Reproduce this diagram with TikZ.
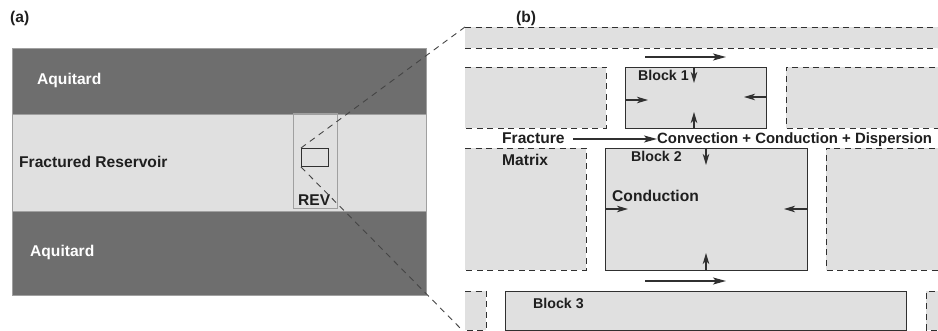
\documentclass[tikz,border=0pt]{standalone}
\usepackage{fontspec}
\setmainfont{Liberation Sans}
\usetikzlibrary{arrows.meta}
\definecolor{lightg}{HTML}{E0E0E0}
\definecolor{darkg}{HTML}{6E6E6E}
\definecolor{lineg}{HTML}{303030}
\definecolor{edgeg}{HTML}{A0A0A0}
\tikzset{
  lbl/.style={anchor=base west, inner sep=0pt, font=\fontsize{15.6}{18}\selectfont\bfseries, text=black!88},
  wlbl/.style={lbl, text=white},
  blbl/.style={lbl, font=\fontsize{14.2}{17}\selectfont\bfseries},
  dashbox/.style={draw=lineg, line width=0.9pt, dash pattern=on 6pt off 4.5pt},
  solidbox/.style={draw=lineg, line width=1pt, fill=lightg},
  flow/.style={draw=lineg, line width=1.1pt, -{Stealth[length=13pt,width=7pt,inset=3pt]}},
  sflow/.style={draw=lineg, line width=1.1pt, -{Stealth[length=11pt,width=6.5pt,inset=3pt]}},
  zoomline/.style={draw=lineg!90, line width=0.9pt, dash pattern=on 6pt off 5pt},
}
\begin{document}
\begin{tikzpicture}[x=1pt,y=-1pt]
\useasboundingbox (0,0) rectangle (938,331);
\clip (0,0) rectangle (938,331);
\fill[white] (0,0) rectangle (938,331);

% ---------- panel (a) ----------
\node[lbl] (la) at (10,23) {(a)};
\fill[darkg] (12,48) rectangle (426,114);
\fill[lightg] (12,114) rectangle (426,211);
\fill[darkg] (12,211) rectangle (426,295);
\draw[edgeg, line width=0.8pt] (12,48) rectangle (426,295);
\draw[edgeg, line width=0.8pt] (12,114) -- (426,114) (12,211) -- (426,211);
\draw[edgeg, line width=1pt] (293,114) rectangle (337,209);
\node[draw=lineg, line width=1pt, minimum width=27pt, minimum height=18pt, inner sep=0pt, anchor=north west] (rev) at (301,148) {};
\node[wlbl] (aq1) at (37,85) {Aquitard};
\node[lbl] (fr) at (19,168) {Fractured Reservoir};
\node[wlbl] (aq2) at (30,257) {Aquitard};
\node[lbl] (revl) at (298,206) {REV};

% ---------- panel (b) ----------
\node[lbl] (lb) at (516,23) {(b)};
% top strip
\fill[lightg] (465,27) rectangle (945,48);
\draw[dashbox] (465,27) -- (945,27) (465,48) -- (945,48);
% row 1
\fill[lightg] (465,67) rectangle (606,128);
\draw[dashbox] (465,67) -- (606,67) -- (606,128) -- (465,128);
\fill[lightg] (786,67) rectangle (945,128);
\draw[dashbox] (945,67) -- (786,67) -- (786,128) -- (945,128);
\node[solidbox, minimum width=141pt, minimum height=61pt, inner sep=0pt, anchor=north west] (b1) at (625,67) {};
% row 2
\fill[lightg] (465,148) rectangle (586,270);
\draw[dashbox] (465,148) -- (586,148) -- (586,270) -- (465,270);
\fill[lightg] (826,148) rectangle (945,270);
\draw[dashbox] (945,148) -- (826,148) -- (826,270) -- (945,270);
\node[solidbox, minimum width=202pt, minimum height=122pt, inner sep=0pt, anchor=north west] (b2) at (605,148) {};
% row 3
\fill[lightg] (465,291) rectangle (486,330);
\draw[dashbox] (465,291) -- (486,291) -- (486,330) -- (465,330);
\fill[lightg] (926,291) rectangle (945,330);
\draw[dashbox] (945,291) -- (926,291) -- (926,330) -- (945,330);
\node[solidbox, minimum width=401pt, minimum height=39pt, inner sep=0pt, anchor=north west] (b3) at (505,291) {};

% labels
\node[blbl] (t1) at (638,81) {Block 1};
\node[blbl] (t2) at (631,162) {Block 2};
\node[blbl] (t3) at (533,309) {Block 3};
\node[lbl] (frac) at (502,144) {Fracture};
\node[lbl, font=\fontsize{14.9}{18}\selectfont\bfseries] (conv) at (657,144) {Convection + Conduction + Dispersion};
\node[lbl] (mat) at (502,166) {Matrix};
\node[lbl] (cond) at (612,202) {Conduction};

% coordinates for arrows
\coordinate (a1s) at (645,57); \coordinate (a1e) at (726,57);
\coordinate (a2s) at (645,281); \coordinate (a2e) at (726,281);
\coordinate (fs) at (573,139);
\draw[flow] (a1s) -- (a1e);
\draw[flow] (a2s) -- (a2e);
\draw[flow] (fs) -- (conv.west |- fs);

% block 1 conduction arrows
\draw[sflow] (b1.north -| 694,0) -- (694,83);
\draw[sflow] (b1.south -| 694,0) -- (694,112);
\draw[sflow] (b1.west |- 0,100) -- (648,100);
\draw[sflow] (767,97) -- (744,97);
% block 2 conduction arrows
\draw[sflow] (b2.north -| 706,0) -- (706,165);
\draw[sflow] (b2.south -| 706,0) -- (706,253);
\draw[sflow] (b2.west |- 0,209) -- (628,209);
\draw[sflow] (808,209) -- (784,209);

% zoom lines
\draw[zoomline] (rev.north west) -- (465,27);
\draw[zoomline] (rev.south west) -- (468,336);
\end{tikzpicture}
\end{document}
